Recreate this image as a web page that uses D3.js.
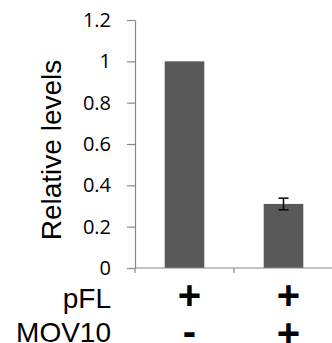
<!DOCTYPE html>
<html><head><meta charset="utf-8">
<script src="https://cdn.jsdelivr.net/npm/d3@7"></script>
<style>body{margin:0;background:#fff}svg{display:block}</style>
</head><body><svg id="c" width="332" height="343"></svg>
<script>
const categories = ["ctrl", "mov10"];
const values = [1.0, 0.31];
const errors = [0, 0.028];
const yTicks = [0, 0.2, 0.4, 0.6, 0.8, 1.0, 1.2];
const rowLabels = ["pFL", "MOV10"];
const rowSigns = [["+", "+"], ["-", "+"]];
const yLabel = "Relative levels";

const svg = d3.select("#c");
const y = d3.scaleLinear().domain([0, 1.2]).range([268, 20]);
const x = d3.scaleBand().domain(categories).range([135, 333]).paddingInner(0.6).paddingOuter(0.3);
const axisColor = "#888";

// y axis
const ya = svg.append("g").attr("transform", "translate(135,0)")
  .call(d3.axisLeft(y).tickValues(yTicks).tickSize(8).tickSizeOuter(0).tickPadding(16)
    .tickFormat(d => d3.format("")(+d.toFixed(1))));
ya.select(".domain").attr("stroke", axisColor).attr("stroke-width", 1.2);
ya.selectAll(".tick line").attr("stroke", axisColor).attr("stroke-width", 1.2);
ya.selectAll(".tick text").attr("font-family", "Open Sans, sans-serif").attr("font-size", 20).attr("fill", "#000");

// bars
svg.append("g").selectAll("rect").data(categories).join("rect")
  .attr("x", d => x(d)).attr("width", x.bandwidth())
  .attr("y", (d, i) => y(values[i])).attr("height", (d, i) => y(0) - y(values[i]))
  .attr("fill", "#595959");

// error bars
const eb = svg.append("g").attr("stroke", "#000").attr("stroke-width", 1.5);
categories.forEach((c, i) => {
  if (!errors[i]) return;
  const cx = x(c) + x.bandwidth() / 2;
  eb.append("line").attr("x1", cx).attr("x2", cx).attr("y1", y(values[i] + errors[i])).attr("y2", y(values[i] - errors[i]));
  [values[i] + errors[i], values[i] - errors[i]].forEach(v =>
    eb.append("line").attr("x1", cx - 5).attr("x2", cx + 5).attr("y1", y(v)).attr("y2", y(v)));
});

// x axis
const step = x.step();
const bounds = [135, 135 + step, 135 + 2 * step];
svg.append("line").attr("x1", 135).attr("x2", 333).attr("y1", y(0)).attr("y2", y(0)).attr("stroke", axisColor).attr("stroke-width", 1.2);
svg.append("g").selectAll("line").data(bounds).join("line")
  .attr("x1", d => d).attr("x2", d => d).attr("y1", y(0)).attr("y2", y(0) + 5)
  .attr("stroke", axisColor).attr("stroke-width", 1.2);

// y label
svg.append("text").attr("transform", "translate(61,150) rotate(-90)")
  .attr("text-anchor", "middle").attr("font-family", "Liberation Sans, Arial, sans-serif")
  .attr("font-size", 28).text(yLabel);

// row labels and signs
const rowY = [308, 342];
const signY = [[309, 309], [345, 347]];
rowLabels.forEach((lab, r) => {
  svg.append("text").attr("x", 111).attr("y", rowY[r]).attr("text-anchor", "end")
    .attr("font-family", "Liberation Sans, Arial, sans-serif").attr("font-size", 28).text(lab);
  categories.forEach((c, i) => {
    svg.append("text").attr("x", x(c) + x.bandwidth() / 2 + 5).attr("y", signY[r][i])
      .attr("text-anchor", "middle").attr("font-family", "Liberation Sans, Arial, sans-serif")
      .attr("font-weight", "bold").attr("font-size", 40).text(rowSigns[r][i]);
  });
});
</script></body></html>
